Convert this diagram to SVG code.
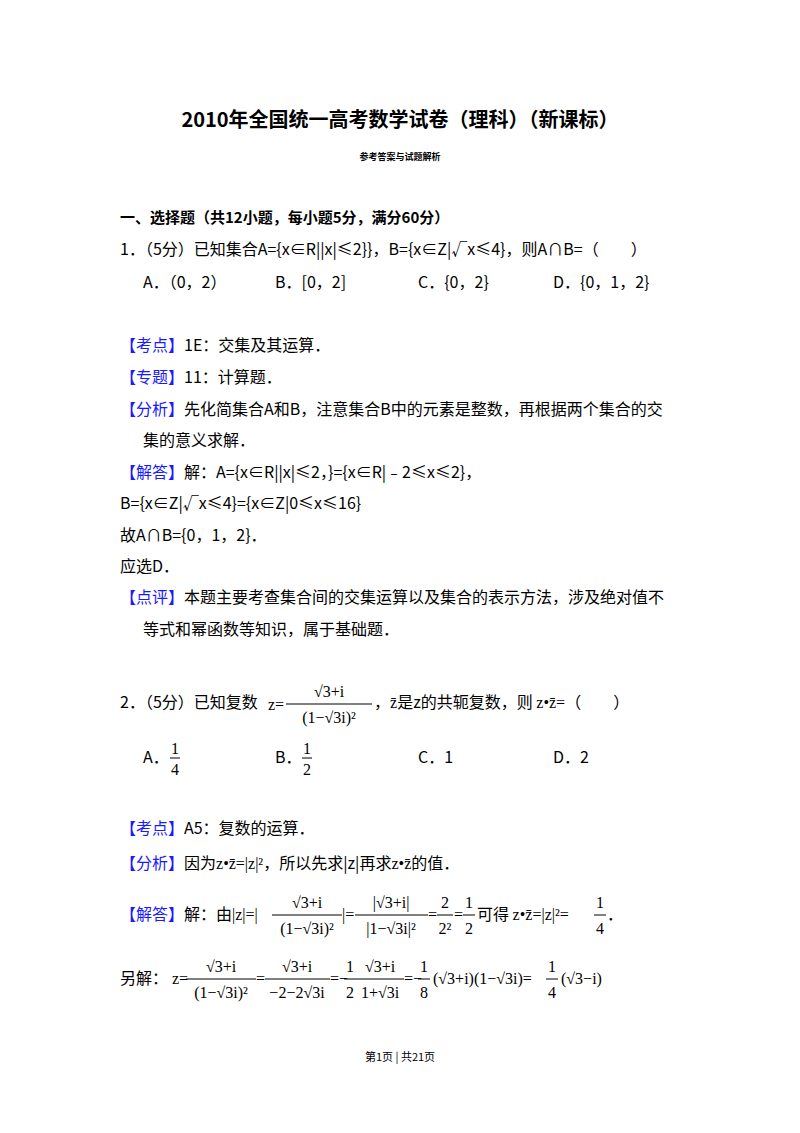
<svg xmlns="http://www.w3.org/2000/svg" width="800" height="1133" viewBox="0 0 800 1133">
<style>
text{font-family:"Noto Sans CJK SC","Noto Sans",sans-serif;fill:#000;}
.t{font-size:20px;font-weight:bold;}
.s{font-size:9px;font-weight:bold;}
.h{font-size:15px;font-weight:bold;}
.b{font-size:16px;}
.bl{fill:#1a1aff;}
.m{font-family:"Liberation Serif","DejaVu Serif",serif;font-size:16px;}
.f{font-size:11px;}
line{stroke:#000;stroke-width:1;}
</style>
<rect width="800" height="1133" fill="#fff"/>
<text class="t" x="400" y="127" text-anchor="middle">2010年全国统一高考数学试卷（理科）（新课标）</text>
<text class="s" x="400" y="160" text-anchor="middle">参考答案与试题解析</text>
<text class="h" x="120" y="223">一、选择题（共12小题，每小题5分，满分60分）</text>
<text class="b" x="120" y="255">1．（5分）已知集合A={x∈R||x|≤2}}，B={x∈Z|√x≤4}，则A∩B=（　　）</text>
<text class="b" x="143" y="288">A．（0，2）</text>
<text class="b" x="275" y="288">B．[0，2]</text>
<text class="b" x="418" y="288">C．{0，2}</text>
<text class="b" x="553" y="288">D．{0，1，2}</text>
<text class="b" x="120" y="351"><tspan class="bl">【考点】</tspan>1E：交集及其运算．</text>
<text class="b" x="120" y="383"><tspan class="bl">【专题】</tspan>11：计算题．</text>
<text class="b" x="120" y="415"><tspan class="bl">【分析】</tspan>先化简集合A和B，注意集合B中的元素是整数，再根据两个集合的交</text>
<text class="b" x="143" y="446">集的意义求解．</text>
<text class="b" x="120" y="478"><tspan class="bl">【解答】</tspan>解：A={x∈R||x|≤2，}={x∈R|﹣2≤x≤2}，</text>
<text class="b" x="120" y="509">B={x∈Z|√x≤4}={x∈Z|0≤x≤16}</text>
<text class="b" x="120" y="541">故A∩B={0，1，2}．</text>
<text class="b" x="120" y="572">应选D．</text>
<text class="b" x="120" y="603"><tspan class="bl">【点评】</tspan>本题主要考查集合间的交集运算以及集合的表示方法，涉及绝对值不</text>
<text class="b" x="143" y="635">等式和幂函数等知识，属于基础题．</text>
<g id="q2">
<text class="b" x="120" y="708">2．（5分）已知复数</text>
<text class="m" x="268" y="710">z=</text>
<line x1="286" y1="704" x2="372" y2="704"/>
<text class="m" x="329" y="697" text-anchor="middle">√3+i</text>
<text class="m" x="329" y="723" text-anchor="middle">(1−√3i)²</text>
<text class="b" x="374" y="708">，<tspan class="m">z̄</tspan>是z的共轭复数，则 <tspan class="m">z•z̄=</tspan>（　　）</text>
<text class="b" x="143" y="763">A．</text>
<line x1="170" y1="758" x2="180" y2="758"/>
<text class="m" x="175" y="754" text-anchor="middle">1</text>
<text class="m" x="175" y="775" text-anchor="middle">4</text>
<text class="b" x="275" y="763">B．</text>
<line x1="302" y1="758" x2="312" y2="758"/>
<text class="m" x="307" y="754" text-anchor="middle">1</text>
<text class="m" x="307" y="775" text-anchor="middle">2</text>
<text class="b" x="418" y="763">C．1</text>
<text class="b" x="553" y="763">D．2</text>
</g>
<text class="b" x="120" y="834"><tspan class="bl">【考点】</tspan>A5：复数的运算．</text>
<text class="b" x="120" y="869"><tspan class="bl">【分析】</tspan>因为<tspan class="m">z•z̄=|z|²</tspan>，所以先求|z|再求<tspan class="m">z•z̄</tspan>的值．</text>
<g id="sol">
<text class="b" x="120" y="920"><tspan class="bl">【解答】</tspan>解：由<tspan class="m">|z|=|</tspan></text>
<line x1="272" y1="915" x2="342" y2="915"/>
<text class="m" x="307" y="908" text-anchor="middle">√3+i</text>
<text class="m" x="307" y="934" text-anchor="middle">(1−√3i)²</text>
<text class="m" x="342" y="920">|=</text>
<line x1="355" y1="915" x2="428" y2="915"/>
<text class="m" x="391" y="908" text-anchor="middle">|√3+i|</text>
<text class="m" x="391" y="934" text-anchor="middle">|1−√3i|²</text>
<text class="m" x="428" y="920">=</text>
<line x1="437" y1="915" x2="453" y2="915"/>
<text class="m" x="445" y="908" text-anchor="middle">2</text>
<text class="m" x="445" y="934" text-anchor="middle">2²</text>
<text class="m" x="454" y="920">=</text>
<line x1="463" y1="915" x2="475" y2="915"/>
<text class="m" x="469" y="908" text-anchor="middle">1</text>
<text class="m" x="469" y="934" text-anchor="middle">2</text>
<text class="b" x="477" y="920">可得 <tspan class="m">z•z̄=|z|²=</tspan></text>
<line x1="594" y1="915" x2="606" y2="915"/>
<text class="m" x="600" y="908" text-anchor="middle">1</text>
<text class="m" x="600" y="934" text-anchor="middle">4</text>
<text class="b" x="607" y="920">．</text>
<text class="b" x="120" y="984">另解：</text>
<text class="m" x="172" y="984">z=</text>
<line x1="186" y1="979" x2="256" y2="979"/>
<text class="m" x="221" y="972" text-anchor="middle">√3+i</text>
<text class="m" x="221" y="998" text-anchor="middle">(1−√3i)²</text>
<text class="m" x="256" y="984">=</text>
<line x1="265" y1="979" x2="330" y2="979"/>
<text class="m" x="297" y="972" text-anchor="middle">√3+i</text>
<text class="m" x="297" y="998" text-anchor="middle">−2−2√3i</text>
<text class="m" x="330" y="984">=−</text>
<line x1="344" y1="979" x2="404" y2="979"/>
<text class="m" x="350" y="972" text-anchor="middle">1</text>
<text class="m" x="350" y="998" text-anchor="middle">2</text>
<text class="m" x="380" y="972" text-anchor="middle">√3+i</text>
<text class="m" x="380" y="998" text-anchor="middle">1+√3i</text>
<text class="m" x="404" y="984">=−</text>
<line x1="418" y1="979" x2="430" y2="979"/>
<text class="m" x="424" y="972" text-anchor="middle">1</text>
<text class="m" x="424" y="998" text-anchor="middle">8</text>
<text class="m" x="433" y="984">(√3+i)(1−√3i)=</text>
<line x1="546" y1="979" x2="558" y2="979"/>
<text class="m" x="552" y="972" text-anchor="middle">1</text>
<text class="m" x="552" y="998" text-anchor="middle">4</text>
<text class="m" x="561" y="984">(√3−i)</text>
</g>
<text class="f" x="400" y="1061" text-anchor="middle">第1页 | 共21页</text>
</svg>
